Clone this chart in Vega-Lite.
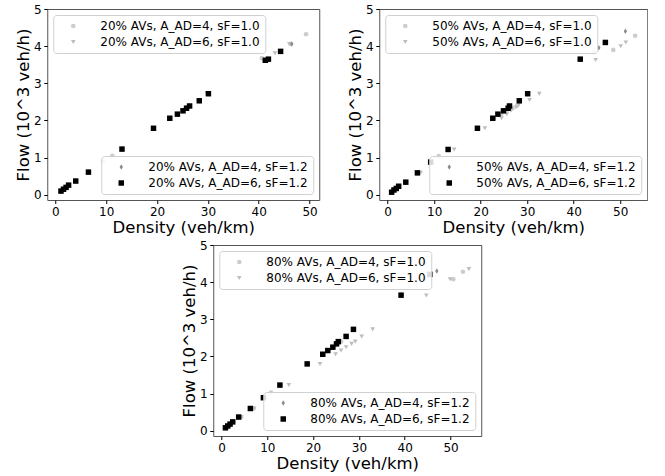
{
  "$schema": "https://vega.github.io/schema/vega-lite/v6.json",
  "padding": {"left": 15, "top": 2, "right": 0, "bottom": 0},
  "background": "white",
  "config": {
    "font": "DejaVu Sans",
    "view": {"stroke": "#555555", "strokeWidth": 1},
    "axis": {"labelFont": "DejaVu Sans", "labelFontSize": 12, "labelColor": "#000000", "titleFont": "DejaVu Sans", "titleFontSize": 16.5, "titleFontWeight": "normal", "titleColor": "#000000", "tickSize": 3.5, "tickColor": "#000000", "grid": false, "domain": false, "labelPadding": 2.5, "titlePadding": 2, "labelOverlap": false, "labelFlush": false},
    "legend": {"fillColor": "rgba(255,255,255,0.85)", "strokeColor": "#d0d0d0", "cornerRadius": 3, "padding": 5, "offset": 6, "labelFont": "DejaVu Sans", "labelFontSize": 12, "labelColor": "#000000", "labelLimit": 400, "symbolOffset": 9, "labelOffset": 21, "rowPadding": 4, "symbolStrokeWidth": 0}
  },
  "datasets": {
    "d": [
      {"p":20,"g":1,"s":"A_AD=4, sF=1.0","x":1.1,"y":0.10},{"p":20,"g":1,"s":"A_AD=4, sF=1.0","x":1.6,"y":0.15},{"p":20,"g":1,"s":"A_AD=4, sF=1.0","x":2.1,"y":0.20},{"p":20,"g":1,"s":"A_AD=4, sF=1.0","x":2.6,"y":0.26},{"p":20,"g":1,"s":"A_AD=4, sF=1.0","x":4.0,"y":0.37},{"p":20,"g":1,"s":"A_AD=4, sF=1.0","x":6.5,"y":0.61},{"p":20,"g":1,"s":"A_AD=4, sF=1.0","x":9.4,"y":0.90},{"p":20,"g":1,"s":"A_AD=4, sF=1.0","x":11.2,"y":1.05},{"p":20,"g":1,"s":"A_AD=4, sF=1.0","x":13.1,"y":1.23},{"p":20,"g":1,"s":"A_AD=4, sF=1.0","x":19.3,"y":1.79},{"p":20,"g":1,"s":"A_AD=4, sF=1.0","x":22.5,"y":2.06},{"p":20,"g":1,"s":"A_AD=4, sF=1.0","x":24.0,"y":2.17},{"p":20,"g":1,"s":"A_AD=4, sF=1.0","x":25.1,"y":2.26},{"p":20,"g":1,"s":"A_AD=4, sF=1.0","x":26.0,"y":2.35},{"p":20,"g":1,"s":"A_AD=4, sF=1.0","x":28.3,"y":2.53},{"p":20,"g":1,"s":"A_AD=4, sF=1.0","x":30.0,"y":2.73},{"p":20,"g":1,"s":"A_AD=4, sF=1.0","x":40.6,"y":3.68},{"p":20,"g":1,"s":"A_AD=4, sF=1.0","x":46.3,"y":4.06},{"p":20,"g":1,"s":"A_AD=4, sF=1.0","x":49.3,"y":4.32},
      {"p":20,"g":1,"s":"A_AD=6, sF=1.0","x":1.1,"y":0.10},{"p":20,"g":1,"s":"A_AD=6, sF=1.0","x":1.6,"y":0.15},{"p":20,"g":1,"s":"A_AD=6, sF=1.0","x":2.1,"y":0.20},{"p":20,"g":1,"s":"A_AD=6, sF=1.0","x":2.6,"y":0.26},{"p":20,"g":1,"s":"A_AD=6, sF=1.0","x":4.0,"y":0.37},{"p":20,"g":1,"s":"A_AD=6, sF=1.0","x":6.5,"y":0.61},{"p":20,"g":1,"s":"A_AD=6, sF=1.0","x":13.1,"y":1.23},{"p":20,"g":1,"s":"A_AD=6, sF=1.0","x":19.3,"y":1.79},{"p":20,"g":1,"s":"A_AD=6, sF=1.0","x":22.5,"y":2.06},{"p":20,"g":1,"s":"A_AD=6, sF=1.0","x":24.0,"y":2.17},{"p":20,"g":1,"s":"A_AD=6, sF=1.0","x":25.1,"y":2.26},{"p":20,"g":1,"s":"A_AD=6, sF=1.0","x":26.0,"y":2.35},{"p":20,"g":1,"s":"A_AD=6, sF=1.0","x":28.3,"y":2.53},{"p":20,"g":1,"s":"A_AD=6, sF=1.0","x":29.8,"y":2.73},{"p":20,"g":1,"s":"A_AD=6, sF=1.0","x":40.9,"y":3.60},{"p":20,"g":1,"s":"A_AD=6, sF=1.0","x":43.2,"y":3.81},{"p":20,"g":1,"s":"A_AD=6, sF=1.0","x":46.0,"y":4.06},
      {"p":20,"g":2,"s":"A_AD=4, sF=1.2","x":1.1,"y":0.10},{"p":20,"g":2,"s":"A_AD=4, sF=1.2","x":1.6,"y":0.15},{"p":20,"g":2,"s":"A_AD=4, sF=1.2","x":2.1,"y":0.20},{"p":20,"g":2,"s":"A_AD=4, sF=1.2","x":2.6,"y":0.26},{"p":20,"g":2,"s":"A_AD=4, sF=1.2","x":4.0,"y":0.37},{"p":20,"g":2,"s":"A_AD=4, sF=1.2","x":6.5,"y":0.61},{"p":20,"g":2,"s":"A_AD=4, sF=1.2","x":13.1,"y":1.23},{"p":20,"g":2,"s":"A_AD=4, sF=1.2","x":19.3,"y":1.79},{"p":20,"g":2,"s":"A_AD=4, sF=1.2","x":22.5,"y":2.06},{"p":20,"g":2,"s":"A_AD=4, sF=1.2","x":24.0,"y":2.17},{"p":20,"g":2,"s":"A_AD=4, sF=1.2","x":25.1,"y":2.26},{"p":20,"g":2,"s":"A_AD=4, sF=1.2","x":26.0,"y":2.35},{"p":20,"g":2,"s":"A_AD=4, sF=1.2","x":28.3,"y":2.53},{"p":20,"g":2,"s":"A_AD=4, sF=1.2","x":30.1,"y":2.72},{"p":20,"g":2,"s":"A_AD=4, sF=1.2","x":41.3,"y":3.62},{"p":20,"g":2,"s":"A_AD=4, sF=1.2","x":46.5,"y":4.06},
      {"p":20,"g":2,"s":"A_AD=6, sF=1.2","x":1.1,"y":0.10},{"p":20,"g":2,"s":"A_AD=6, sF=1.2","x":1.6,"y":0.15},{"p":20,"g":2,"s":"A_AD=6, sF=1.2","x":2.1,"y":0.20},{"p":20,"g":2,"s":"A_AD=6, sF=1.2","x":2.6,"y":0.26},{"p":20,"g":2,"s":"A_AD=6, sF=1.2","x":4.0,"y":0.37},{"p":20,"g":2,"s":"A_AD=6, sF=1.2","x":6.5,"y":0.61},{"p":20,"g":2,"s":"A_AD=6, sF=1.2","x":13.1,"y":1.23},{"p":20,"g":2,"s":"A_AD=6, sF=1.2","x":19.3,"y":1.79},{"p":20,"g":2,"s":"A_AD=6, sF=1.2","x":22.5,"y":2.06},{"p":20,"g":2,"s":"A_AD=6, sF=1.2","x":24.0,"y":2.17},{"p":20,"g":2,"s":"A_AD=6, sF=1.2","x":25.1,"y":2.26},{"p":20,"g":2,"s":"A_AD=6, sF=1.2","x":25.8,"y":2.33},{"p":20,"g":2,"s":"A_AD=6, sF=1.2","x":26.4,"y":2.39},{"p":20,"g":2,"s":"A_AD=6, sF=1.2","x":28.3,"y":2.53},{"p":20,"g":2,"s":"A_AD=6, sF=1.2","x":30.1,"y":2.72},{"p":20,"g":2,"s":"A_AD=6, sF=1.2","x":41.3,"y":3.62},{"p":20,"g":2,"s":"A_AD=6, sF=1.2","x":41.9,"y":3.65},{"p":20,"g":2,"s":"A_AD=6, sF=1.2","x":44.3,"y":3.86},

      {"p":50,"g":1,"s":"A_AD=4, sF=1.0","x":0.9,"y":0.07},{"p":50,"g":1,"s":"A_AD=4, sF=1.0","x":1.4,"y":0.13},{"p":50,"g":1,"s":"A_AD=4, sF=1.0","x":1.9,"y":0.17},{"p":50,"g":1,"s":"A_AD=4, sF=1.0","x":2.4,"y":0.23},{"p":50,"g":1,"s":"A_AD=4, sF=1.0","x":3.9,"y":0.34},{"p":50,"g":1,"s":"A_AD=4, sF=1.0","x":6.5,"y":0.59},{"p":50,"g":1,"s":"A_AD=4, sF=1.0","x":9.3,"y":0.88},{"p":50,"g":1,"s":"A_AD=4, sF=1.0","x":11.0,"y":1.04},{"p":50,"g":1,"s":"A_AD=4, sF=1.0","x":13.1,"y":1.22},{"p":50,"g":1,"s":"A_AD=4, sF=1.0","x":19.4,"y":1.79},{"p":50,"g":1,"s":"A_AD=4, sF=1.0","x":22.8,"y":2.06},{"p":50,"g":1,"s":"A_AD=4, sF=1.0","x":24.4,"y":2.17},{"p":50,"g":1,"s":"A_AD=4, sF=1.0","x":25.6,"y":2.26},{"p":50,"g":1,"s":"A_AD=4, sF=1.0","x":26.8,"y":2.33},{"p":50,"g":1,"s":"A_AD=4, sF=1.0","x":27.8,"y":2.40},{"p":50,"g":1,"s":"A_AD=4, sF=1.0","x":28.4,"y":2.53},{"p":50,"g":1,"s":"A_AD=4, sF=1.0","x":30.1,"y":2.72},{"p":50,"g":1,"s":"A_AD=4, sF=1.0","x":41.3,"y":3.65},{"p":50,"g":1,"s":"A_AD=4, sF=1.0","x":44.3,"y":3.84},{"p":50,"g":1,"s":"A_AD=4, sF=1.0","x":48.5,"y":3.90},{"p":50,"g":1,"s":"A_AD=4, sF=1.0","x":53.2,"y":4.28},
      {"p":50,"g":1,"s":"A_AD=6, sF=1.0","x":0.9,"y":0.07},{"p":50,"g":1,"s":"A_AD=6, sF=1.0","x":1.4,"y":0.13},{"p":50,"g":1,"s":"A_AD=6, sF=1.0","x":1.9,"y":0.17},{"p":50,"g":1,"s":"A_AD=6, sF=1.0","x":2.4,"y":0.23},{"p":50,"g":1,"s":"A_AD=6, sF=1.0","x":4.0,"y":0.34},{"p":50,"g":1,"s":"A_AD=6, sF=1.0","x":7.1,"y":0.59},{"p":50,"g":1,"s":"A_AD=6, sF=1.0","x":14.3,"y":1.22},{"p":50,"g":1,"s":"A_AD=6, sF=1.0","x":20.9,"y":1.79},{"p":50,"g":1,"s":"A_AD=6, sF=1.0","x":24.5,"y":2.06},{"p":50,"g":1,"s":"A_AD=6, sF=1.0","x":25.6,"y":2.17},{"p":50,"g":1,"s":"A_AD=6, sF=1.0","x":26.5,"y":2.26},{"p":50,"g":1,"s":"A_AD=6, sF=1.0","x":27.6,"y":2.35},{"p":50,"g":1,"s":"A_AD=6, sF=1.0","x":28.2,"y":2.42},{"p":50,"g":1,"s":"A_AD=6, sF=1.0","x":30.5,"y":2.55},{"p":50,"g":1,"s":"A_AD=6, sF=1.0","x":32.6,"y":2.72},{"p":50,"g":1,"s":"A_AD=6, sF=1.0","x":44.7,"y":3.63},{"p":50,"g":1,"s":"A_AD=6, sF=1.0","x":50.1,"y":4.00},{"p":50,"g":1,"s":"A_AD=6, sF=1.0","x":51.2,"y":4.10},
      {"p":50,"g":2,"s":"A_AD=4, sF=1.2","x":0.9,"y":0.07},{"p":50,"g":2,"s":"A_AD=4, sF=1.2","x":1.4,"y":0.13},{"p":50,"g":2,"s":"A_AD=4, sF=1.2","x":1.9,"y":0.17},{"p":50,"g":2,"s":"A_AD=4, sF=1.2","x":2.4,"y":0.23},{"p":50,"g":2,"s":"A_AD=4, sF=1.2","x":3.9,"y":0.34},{"p":50,"g":2,"s":"A_AD=4, sF=1.2","x":6.4,"y":0.59},{"p":50,"g":2,"s":"A_AD=4, sF=1.2","x":9.3,"y":0.88},{"p":50,"g":2,"s":"A_AD=4, sF=1.2","x":13.0,"y":1.22},{"p":50,"g":2,"s":"A_AD=4, sF=1.2","x":19.3,"y":1.79},{"p":50,"g":2,"s":"A_AD=4, sF=1.2","x":22.6,"y":2.06},{"p":50,"g":2,"s":"A_AD=4, sF=1.2","x":23.9,"y":2.17},{"p":50,"g":2,"s":"A_AD=4, sF=1.2","x":25.1,"y":2.26},{"p":50,"g":2,"s":"A_AD=4, sF=1.2","x":26.1,"y":2.33},{"p":50,"g":2,"s":"A_AD=4, sF=1.2","x":28.3,"y":2.53},{"p":50,"g":2,"s":"A_AD=4, sF=1.2","x":30.1,"y":2.72},{"p":50,"g":2,"s":"A_AD=4, sF=1.2","x":45.4,"y":3.96},{"p":50,"g":2,"s":"A_AD=4, sF=1.2","x":51.1,"y":4.40},
      {"p":50,"g":2,"s":"A_AD=6, sF=1.2","x":0.86,"y":0.07},{"p":50,"g":2,"s":"A_AD=6, sF=1.2","x":1.36,"y":0.13},{"p":50,"g":2,"s":"A_AD=6, sF=1.2","x":1.86,"y":0.17},{"p":50,"g":2,"s":"A_AD=6, sF=1.2","x":2.37,"y":0.23},{"p":50,"g":2,"s":"A_AD=6, sF=1.2","x":3.9,"y":0.34},{"p":50,"g":2,"s":"A_AD=6, sF=1.2","x":6.4,"y":0.59},{"p":50,"g":2,"s":"A_AD=6, sF=1.2","x":9.25,"y":0.88},{"p":50,"g":2,"s":"A_AD=6, sF=1.2","x":13.0,"y":1.22},{"p":50,"g":2,"s":"A_AD=6, sF=1.2","x":19.3,"y":1.79},{"p":50,"g":2,"s":"A_AD=6, sF=1.2","x":22.6,"y":2.06},{"p":50,"g":2,"s":"A_AD=6, sF=1.2","x":23.7,"y":2.17},{"p":50,"g":2,"s":"A_AD=6, sF=1.2","x":24.9,"y":2.26},{"p":50,"g":2,"s":"A_AD=6, sF=1.2","x":25.9,"y":2.33},{"p":50,"g":2,"s":"A_AD=6, sF=1.2","x":26.2,"y":2.39},{"p":50,"g":2,"s":"A_AD=6, sF=1.2","x":28.3,"y":2.53},{"p":50,"g":2,"s":"A_AD=6, sF=1.2","x":30.1,"y":2.72},{"p":50,"g":2,"s":"A_AD=6, sF=1.2","x":41.4,"y":3.65},{"p":50,"g":2,"s":"A_AD=6, sF=1.2","x":46.8,"y":4.10},

      {"p":80,"g":1,"s":"A_AD=4, sF=1.0","x":0.9,"y":0.08},{"p":80,"g":1,"s":"A_AD=4, sF=1.0","x":1.4,"y":0.13},{"p":80,"g":1,"s":"A_AD=4, sF=1.0","x":1.9,"y":0.18},{"p":80,"g":1,"s":"A_AD=4, sF=1.0","x":2.5,"y":0.24},{"p":80,"g":1,"s":"A_AD=4, sF=1.0","x":4.3,"y":0.37},{"p":80,"g":1,"s":"A_AD=4, sF=1.0","x":7.0,"y":0.60},{"p":80,"g":1,"s":"A_AD=4, sF=1.0","x":9.2,"y":0.89},{"p":80,"g":1,"s":"A_AD=4, sF=1.0","x":10.8,"y":1.03},{"p":80,"g":1,"s":"A_AD=4, sF=1.0","x":12.8,"y":1.23},{"p":80,"g":1,"s":"A_AD=4, sF=1.0","x":18.8,"y":1.80},{"p":80,"g":1,"s":"A_AD=4, sF=1.0","x":22.2,"y":2.06},{"p":80,"g":1,"s":"A_AD=4, sF=1.0","x":23.4,"y":2.16},{"p":80,"g":1,"s":"A_AD=4, sF=1.0","x":24.5,"y":2.25},{"p":80,"g":1,"s":"A_AD=4, sF=1.0","x":25.4,"y":2.34},{"p":80,"g":1,"s":"A_AD=4, sF=1.0","x":26.1,"y":2.40},{"p":80,"g":1,"s":"A_AD=4, sF=1.0","x":27.3,"y":2.54},{"p":80,"g":1,"s":"A_AD=4, sF=1.0","x":28.9,"y":2.73},{"p":80,"g":1,"s":"A_AD=4, sF=1.0","x":39.3,"y":3.65},{"p":80,"g":1,"s":"A_AD=4, sF=1.0","x":44.7,"y":4.12},{"p":80,"g":1,"s":"A_AD=4, sF=1.0","x":50.6,"y":4.08},{"p":80,"g":1,"s":"A_AD=4, sF=1.0","x":52.7,"y":4.28},
      {"p":80,"g":1,"s":"A_AD=6, sF=1.0","x":0.9,"y":0.08},{"p":80,"g":1,"s":"A_AD=6, sF=1.0","x":1.4,"y":0.13},{"p":80,"g":1,"s":"A_AD=6, sF=1.0","x":1.9,"y":0.18},{"p":80,"g":1,"s":"A_AD=6, sF=1.0","x":2.5,"y":0.24},{"p":80,"g":1,"s":"A_AD=6, sF=1.0","x":4.3,"y":0.37},{"p":80,"g":1,"s":"A_AD=6, sF=1.0","x":7.1,"y":0.60},{"p":80,"g":1,"s":"A_AD=6, sF=1.0","x":14.7,"y":1.23},{"p":80,"g":1,"s":"A_AD=6, sF=1.0","x":21.5,"y":1.80},{"p":80,"g":1,"s":"A_AD=6, sF=1.0","x":24.9,"y":2.06},{"p":80,"g":1,"s":"A_AD=6, sF=1.0","x":26.1,"y":2.16},{"p":80,"g":1,"s":"A_AD=6, sF=1.0","x":27.2,"y":2.25},{"p":80,"g":1,"s":"A_AD=6, sF=1.0","x":28.4,"y":2.34},{"p":80,"g":1,"s":"A_AD=6, sF=1.0","x":29.2,"y":2.40},{"p":80,"g":1,"s":"A_AD=6, sF=1.0","x":30.6,"y":2.54},{"p":80,"g":1,"s":"A_AD=6, sF=1.0","x":33.0,"y":2.73},{"p":80,"g":1,"s":"A_AD=6, sF=1.0","x":44.7,"y":3.64},{"p":80,"g":1,"s":"A_AD=6, sF=1.0","x":49.9,"y":4.08},{"p":80,"g":1,"s":"A_AD=6, sF=1.0","x":54.0,"y":4.35},
      {"p":80,"g":2,"s":"A_AD=4, sF=1.2","x":0.9,"y":0.08},{"p":80,"g":2,"s":"A_AD=4, sF=1.2","x":1.4,"y":0.13},{"p":80,"g":2,"s":"A_AD=4, sF=1.2","x":1.9,"y":0.18},{"p":80,"g":2,"s":"A_AD=4, sF=1.2","x":2.5,"y":0.24},{"p":80,"g":2,"s":"A_AD=4, sF=1.2","x":3.8,"y":0.37},{"p":80,"g":2,"s":"A_AD=4, sF=1.2","x":6.3,"y":0.60},{"p":80,"g":2,"s":"A_AD=4, sF=1.2","x":9.2,"y":0.89},{"p":80,"g":2,"s":"A_AD=4, sF=1.2","x":12.8,"y":1.23},{"p":80,"g":2,"s":"A_AD=4, sF=1.2","x":18.7,"y":1.80},{"p":80,"g":2,"s":"A_AD=4, sF=1.2","x":22.1,"y":2.06},{"p":80,"g":2,"s":"A_AD=4, sF=1.2","x":23.2,"y":2.16},{"p":80,"g":2,"s":"A_AD=4, sF=1.2","x":24.3,"y":2.25},{"p":80,"g":2,"s":"A_AD=4, sF=1.2","x":25.1,"y":2.34},{"p":80,"g":2,"s":"A_AD=4, sF=1.2","x":25.5,"y":2.40},{"p":80,"g":2,"s":"A_AD=4, sF=1.2","x":27.2,"y":2.54},{"p":80,"g":2,"s":"A_AD=4, sF=1.2","x":28.8,"y":2.73},{"p":80,"g":2,"s":"A_AD=4, sF=1.2","x":39.2,"y":3.65},{"p":80,"g":2,"s":"A_AD=4, sF=1.2","x":47.0,"y":4.30},
      {"p":80,"g":2,"s":"A_AD=6, sF=1.2","x":0.86,"y":0.08},{"p":80,"g":2,"s":"A_AD=6, sF=1.2","x":1.37,"y":0.13},{"p":80,"g":2,"s":"A_AD=6, sF=1.2","x":1.87,"y":0.18},{"p":80,"g":2,"s":"A_AD=6, sF=1.2","x":2.45,"y":0.24},{"p":80,"g":2,"s":"A_AD=6, sF=1.2","x":3.75,"y":0.37},{"p":80,"g":2,"s":"A_AD=6, sF=1.2","x":6.3,"y":0.60},{"p":80,"g":2,"s":"A_AD=6, sF=1.2","x":9.15,"y":0.89},{"p":80,"g":2,"s":"A_AD=6, sF=1.2","x":12.75,"y":1.23},{"p":80,"g":2,"s":"A_AD=6, sF=1.2","x":18.7,"y":1.80},{"p":80,"g":2,"s":"A_AD=6, sF=1.2","x":22.1,"y":2.06},{"p":80,"g":2,"s":"A_AD=6, sF=1.2","x":23.2,"y":2.16},{"p":80,"g":2,"s":"A_AD=6, sF=1.2","x":24.3,"y":2.25},{"p":80,"g":2,"s":"A_AD=6, sF=1.2","x":25.1,"y":2.34},{"p":80,"g":2,"s":"A_AD=6, sF=1.2","x":25.5,"y":2.40},{"p":80,"g":2,"s":"A_AD=6, sF=1.2","x":27.2,"y":2.54},{"p":80,"g":2,"s":"A_AD=6, sF=1.2","x":28.8,"y":2.73},{"p":80,"g":2,"s":"A_AD=6, sF=1.2","x":39.2,"y":3.65},{"p":80,"g":2,"s":"A_AD=6, sF=1.2","x":45.5,"y":4.21}
    ]
  },
  "data": {"name": "d"},
  "vconcat": [
    {
      "hconcat": [
        {
          "width": 272, "height": 191,
          "encoding": {
            "x": {"field": "x", "type": "quantitative", "scale": {"domain": [-1.6, 51.9], "nice": false, "zero": false}, "axis": {"values": [0, 10, 20, 30, 40, 50], "title": "Density (veh/km)", "labelOverlap": false}},
            "y": {"field": "y", "type": "quantitative", "scale": {"domain": [-0.14, 5], "nice": false, "zero": false}, "axis": {"values": [0, 1, 2, 3, 4, 5], "tickCount": 6, "title": "Flow (10^3 veh/h)", "labelOverlap": false}}
          },
          "layer": [
            {
              "transform": [{"filter": "datum.p == 20 && datum.g == 1"}],
              "mark": {"type": "point", "filled": true, "opacity": 1, "size": 22},
              "encoding": {
                "color": {"field": "s", "type": "nominal", "scale": {"range": ["#cdcdcd", "#bdbdbd"]}, "legend": {"title": null, "orient": "top-left", "symbolSize": 22, "labelExpr": "'20% AVs, ' + datum.label"}},
                "shape": {"field": "s", "type": "nominal", "scale": {"range": ["circle", "triangle-down"]}, "legend": {"title": null, "orient": "top-left", "symbolSize": 22, "labelExpr": "'20% AVs, ' + datum.label"}}
              }
            },
            {
              "transform": [{"filter": "datum.p == 20 && datum.g == 2"}],
              "mark": {"type": "point", "filled": true, "opacity": 1, "size": 30},
              "encoding": {
                "color": {"field": "s", "type": "nominal", "scale": {"range": ["#8a8a8a", "#000000"]}, "legend": {"title": null, "orient": "bottom-right", "symbolSize": 30, "labelExpr": "'20% AVs, ' + datum.label"}},
                "shape": {"field": "s", "type": "nominal", "scale": {"range": ["M0,-1L0.6,0L0,1L-0.6,0Z", "square"]}, "legend": {"title": null, "orient": "bottom-right", "symbolSize": 30, "labelExpr": "'20% AVs, ' + datum.label"}}
              }
            }
          ],
          "resolve": {"scale": {"color": "independent", "shape": "independent"}, "legend": {"color": "independent", "shape": "independent"}}
        },
        {
          "width": 268, "height": 191,
          "encoding": {
            "x": {"field": "x", "type": "quantitative", "scale": {"domain": [-1.8, 55.8], "nice": false, "zero": false}, "axis": {"values": [0, 10, 20, 30, 40, 50], "title": "Density (veh/km)", "labelOverlap": false}},
            "y": {"field": "y", "type": "quantitative", "scale": {"domain": [-0.14, 5], "nice": false, "zero": false}, "axis": {"values": [0, 1, 2, 3, 4, 5], "tickCount": 6, "title": "Flow (10^3 veh/h)", "labelOverlap": false}}
          },
          "layer": [
            {
              "transform": [{"filter": "datum.p == 50 && datum.g == 1"}],
              "mark": {"type": "point", "filled": true, "opacity": 1, "size": 22},
              "encoding": {
                "color": {"field": "s", "type": "nominal", "scale": {"range": ["#cdcdcd", "#bdbdbd"]}, "legend": {"title": null, "orient": "top-left", "symbolSize": 22, "labelExpr": "'50% AVs, ' + datum.label"}},
                "shape": {"field": "s", "type": "nominal", "scale": {"range": ["circle", "triangle-down"]}, "legend": {"title": null, "orient": "top-left", "symbolSize": 22, "labelExpr": "'50% AVs, ' + datum.label"}}
              }
            },
            {
              "transform": [{"filter": "datum.p == 50 && datum.g == 2"}],
              "mark": {"type": "point", "filled": true, "opacity": 1, "size": 30},
              "encoding": {
                "color": {"field": "s", "type": "nominal", "scale": {"range": ["#8a8a8a", "#000000"]}, "legend": {"title": null, "orient": "bottom-right", "symbolSize": 30, "labelExpr": "'50% AVs, ' + datum.label"}},
                "shape": {"field": "s", "type": "nominal", "scale": {"range": ["M0,-1L0.6,0L0,1L-0.6,0Z", "square"]}, "legend": {"title": null, "orient": "bottom-right", "symbolSize": 30, "labelExpr": "'50% AVs, ' + datum.label"}}
              }
            }
          ],
          "resolve": {"scale": {"color": "independent", "shape": "independent"}, "legend": {"color": "independent", "shape": "independent"}}
        }
      ],
      "spacing": 26
    },
    {
      "width": 268, "height": 191,
      "encoding": {
        "x": {"field": "x", "type": "quantitative", "scale": {"domain": [-1.8, 56.7], "nice": false, "zero": false}, "axis": {"values": [0, 10, 20, 30, 40, 50], "title": "Density (veh/km)", "labelOverlap": false}},
        "y": {"field": "y", "type": "quantitative", "scale": {"domain": [-0.14, 5], "nice": false, "zero": false}, "axis": {"values": [0, 1, 2, 3, 4, 5], "tickCount": 6, "title": "Flow (10^3 veh/h)", "labelOverlap": false}}
      },
      "layer": [
        {
          "transform": [{"filter": "datum.p == 80 && datum.g == 1"}],
          "mark": {"type": "point", "filled": true, "opacity": 1, "size": 22},
          "encoding": {
            "color": {"field": "s", "type": "nominal", "scale": {"range": ["#cdcdcd", "#bdbdbd"]}, "legend": {"title": null, "orient": "top-left", "symbolSize": 22, "labelExpr": "'80% AVs, ' + datum.label"}},
            "shape": {"field": "s", "type": "nominal", "scale": {"range": ["circle", "triangle-down"]}, "legend": {"title": null, "orient": "top-left", "symbolSize": 22, "labelExpr": "'80% AVs, ' + datum.label"}}
          }
        },
        {
          "transform": [{"filter": "datum.p == 80 && datum.g == 2"}],
          "mark": {"type": "point", "filled": true, "opacity": 1, "size": 30},
          "encoding": {
            "color": {"field": "s", "type": "nominal", "scale": {"range": ["#8a8a8a", "#000000"]}, "legend": {"title": null, "orient": "bottom-right", "symbolSize": 30, "labelExpr": "'80% AVs, ' + datum.label"}},
            "shape": {"field": "s", "type": "nominal", "scale": {"range": ["M0,-1L0.6,0L0,1L-0.6,0Z", "square"]}, "legend": {"title": null, "orient": "bottom-right", "symbolSize": 30, "labelExpr": "'80% AVs, ' + datum.label"}}
          }
        }
      ],
      "resolve": {"scale": {"color": "independent", "shape": "independent"}, "legend": {"color": "independent", "shape": "independent"}}
    }
  ],
  "spacing": 2,
  "center": true
}
